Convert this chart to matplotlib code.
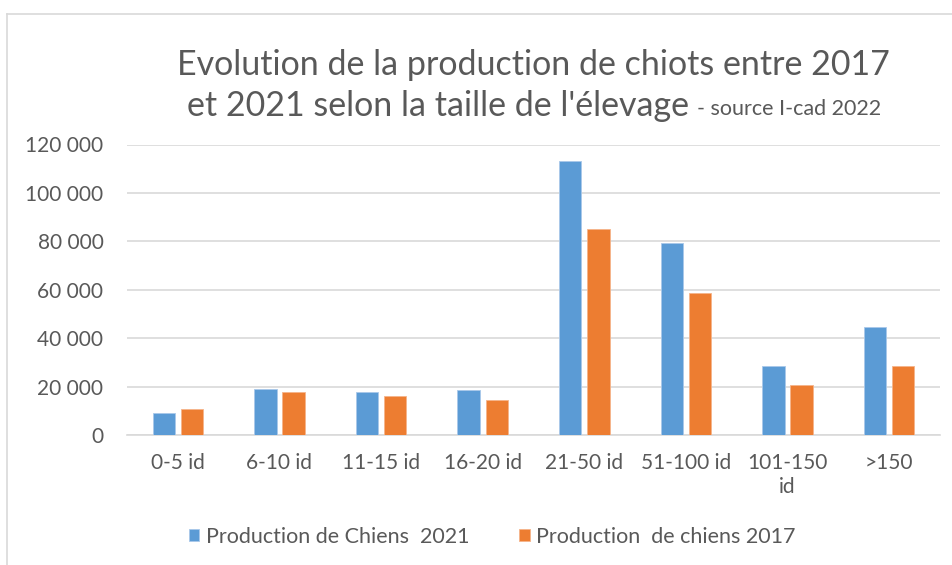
import matplotlib
matplotlib.use('Agg')
import matplotlib.pyplot as plt
import numpy as np
from matplotlib.lines import Line2D
from matplotlib.ticker import FuncFormatter

plt.rcParams['font.family'] = ['Lato', 'DejaVu Sans']

# données
categories = ['0-5 id', '6-10 id', '11-15 id', '16-20 id', '21-50 id',
              '51-100 id', '101-150\nid', '>150']
prod_2021 = [9200, 19100, 17600, 18400, 113100, 79300, 28700, 44500]
prod_2017 = [10800, 17600, 16100, 14500, 85200, 58800, 20500, 28700]
label_2021 = 'Production de Chiens  2021'
label_2017 = 'Production  de chiens 2017'

BLUE = '#5b9bd5'
ORANGE = '#ed7d31'
GREY = '#595959'
W, H = 953, 565

fig = plt.figure(figsize=(W / 100, H / 100), dpi=100)
ax = fig.add_axes([127 / W, 1 - 435 / H, (940 - 127) / W, (435 - 144.5) / H])

x = np.arange(len(categories))
bw = 0.22
off = 0.138
b1 = ax.bar(x - off, prod_2021, bw, color=BLUE, edgecolor='#a9c8ea', linewidth=0.6,
            label=label_2021, zorder=3)
b2 = ax.bar(x + off, prod_2017, bw, color=ORANGE, edgecolor='#f5b48a', linewidth=0.6,
            label=label_2017, zorder=3)

ax.set_xlim(-0.5, len(categories) - 0.5)
ax.set_ylim(0, 120000)
ax.set_yticks(np.arange(0, 120001, 20000))
ax.yaxis.set_major_formatter(FuncFormatter(lambda v, p: f'{v:,.0f}'.replace(',', ' ')))
ax.set_xticks(x)
ax.set_xticklabels(categories)
ax.grid(axis='y', color='#d9d9d9', linewidth=1.2, zorder=0)
for s in ['top', 'right', 'left']:
    ax.spines[s].set_visible(False)
ax.spines['bottom'].set_color('#d9d9d9')
ax.spines['bottom'].set_linewidth(1.2)
ax.tick_params(axis='both', length=0, labelsize=15, labelcolor=GREY)
ax.tick_params(axis='y', pad=17)
ax.tick_params(axis='x', pad=13)
for t in ax.get_xticklabels():
    t.set_linespacing(1.25)

# titre
fig.text(533 / W, 1 - 65 / H, 'Evolution de la production de chiots entre 2017',
         ha='center', va='center', fontsize=24.5, color=GREY)
fig.text(689 / W, 1 - 106 / H, "et 2021 selon la taille de l'élevage",
         ha='right', va='center', fontsize=24.5, color=GREY)
fig.text(697 / W, 1 - 109 / H, '- source I-cad 2022',
         ha='left', va='center', fontsize=15.5, color=GREY)

# légende
fig.legend(handles=[b1, b2], labels=[label_2021, label_2017], loc='center',
           bbox_to_anchor=(492 / W, 1 - 537 / H), ncol=2, frameon=False,
           fontsize=15.5, labelcolor=GREY, handlelength=0.5, handleheight=0.5,
           handletextpad=0.3, columnspacing=2.3)

# cadre du graphique
fig.add_artist(Line2D([7 / W, 7 / W], [0, 1 - 14 / H], color='#d9d9d9', linewidth=1.2))
fig.add_artist(Line2D([7 / W, 1], [1 - 14 / H, 1 - 14 / H], color='#d9d9d9', linewidth=1.2))

fig.savefig('out.png', dpi=100)
